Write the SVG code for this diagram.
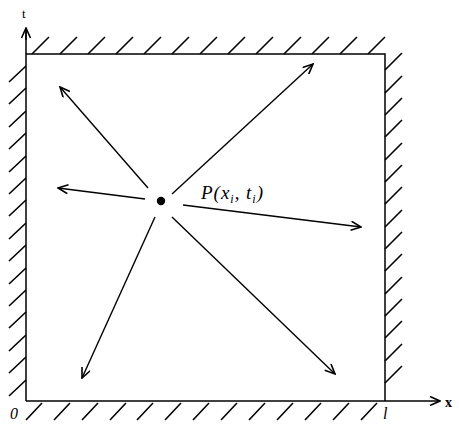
<svg xmlns="http://www.w3.org/2000/svg" width="459" height="428" viewBox="0 0 459 428">
<defs>
<marker id="ah" viewBox="0 0 12 10" refX="11" refY="5" markerWidth="12" markerHeight="10" markerUnits="userSpaceOnUse" orient="auto">
<path d="M1,0.5 L11,5 L1,9.5" fill="none" stroke="#000" stroke-width="1.6"/>
</marker>
</defs>
<style>
.ln{stroke:#000;stroke-width:1.5;fill:none}
.h{stroke:#000;stroke-width:1.6;fill:none}
.ar{stroke:#000;stroke-width:1.4;fill:none;marker-end:url(#ah)}
.lbl{font-family:"Liberation Serif",serif;font-style:italic;fill:#000}
</style>
<rect width="459" height="428" fill="#fff"/>
<g id="frame">
<path class="ln" d="M26,401 V28 M26,54 H385 V401"/>
<path class="ln" d="M26,401 H440" marker-end="url(#ah)"/>
<path class="ln" d="M26,40 V28" marker-end="url(#ah)"/>
</g>
<g id="hatch-top">
<path class="h" d="M32,54 l17,-17 M60,54 l17,-17 M88,54 l17,-17 M116,54 l17,-17 M144,54 l17,-17 M172,54 l17,-17 M200,54 l17,-17 M228,54 l17,-17 M256,54 l17,-17 M284,54 l17,-17 M312,54 l17,-17 M340,54 l17,-17 M368,54 l17,-17"/>
</g>
<g id="hatch-left">
<path class="h" d="M9,82 l17,-16 M9,104 l17,-16 M9,127 l17,-16 M9,149 l17,-16 M9,172 l17,-16 M9,194 l17,-16 M9,216 l17,-16 M9,239 l17,-16 M9,261 l17,-16 M9,284 l17,-16 M9,306 l17,-16 M9,328 l17,-16 M9,351 l17,-16 M9,373 l17,-16 M9,396 l17,-16"/>
</g>
<g id="hatch-right">
<path class="h" d="M385,70 l17,-17 M385,93 l17,-17 M385,115 l17,-17 M385,137 l17,-17 M385,160 l17,-17 M385,182 l17,-17 M385,204 l17,-17 M385,227 l17,-17 M385,249 l17,-17 M385,271 l17,-17 M385,294 l17,-17 M385,316 l17,-17 M385,338 l17,-17 M385,361 l17,-17 M385,383 l17,-17"/>
</g>
<g id="hatch-bottom">
<path class="h" d="M26,420 l16,-17 M54,420 l16,-17 M82,420 l16,-17 M110,420 l16,-17 M137,420 l16,-17 M165,420 l16,-17 M193,420 l16,-17 M221,420 l16,-17 M249,420 l16,-17 M277,420 l16,-17 M305,420 l16,-17 M333,420 l16,-17 M361,420 l16,-17"/>
</g>
<g id="connectors">
<path class="ar" d="M148,188 L60,87"/>
<path class="ar" d="M172,194 L313,64"/>
<path class="ar" d="M145,199 L58,188"/>
<path class="ar" d="M183,205 L361,227"/>
<path class="ar" d="M155,217 L82,378"/>
<path class="ar" d="M172,217 L335,374"/>
</g>
<g id="P">
<circle cx="161" cy="201" r="4.2" fill="#000"/>
<text class="lbl" x="201" y="199" font-size="19" textLength="62" lengthAdjust="spacing">P(x<tspan font-size="12" dy="4">i</tspan><tspan dy="-4">, t</tspan><tspan font-size="12" dy="4">i</tspan><tspan dy="-4">)</tspan></text>
</g>
<g id="labels">
<text x="22" y="18" font-family="Liberation Serif, serif" font-size="13">t</text>
<text x="445" y="407" font-family="Liberation Serif, serif" font-size="14" font-weight="bold">x</text>
<text class="lbl" x="10" y="419" font-size="16">0</text>
<text class="lbl" x="383" y="419" font-size="16">l</text>
</g>
</svg>
